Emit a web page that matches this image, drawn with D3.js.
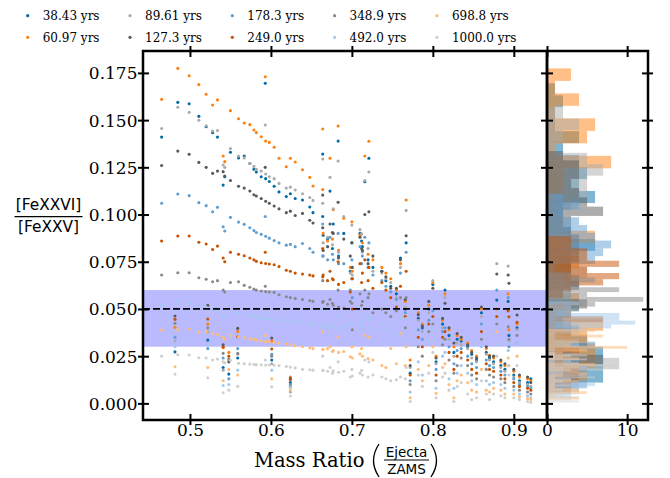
<!DOCTYPE html>
<html>
<head>
<meta charset="utf-8">
<script src="https://cdn.jsdelivr.net/npm/d3@7"></script>
<style>
  body { margin: 0; background: #fff; }
  svg { display: block; }
</style>
</head>
<body>
<svg id="chart" width="670" height="478"></svg>
<script>
// Ejecta-to-ZAMS mass ratio of each model
const massRatio = [
  0.465, 0.4815, 0.485, 0.499, 0.511, 0.520, 0.522, 0.528, 0.534, 0.541,
  0.541, 0.543, 0.548, 0.550, 0.559, 0.560, 0.567, 0.574, 0.579, 0.582,
  0.588, 0.593, 0.5935, 0.598, 0.601, 0.604, 0.610, 0.619, 0.624, 0.624,
  0.630, 0.639, 0.648, 0.652, 0.664, 0.664, 0.6645, 0.670, 0.673, 0.676,
  0.677, 0.683, 0.6835, 0.690, 0.698, 0.700, 0.7005, 0.710, 0.712, 0.713,
  0.716, 0.720, 0.721, 0.726, 0.737, 0.742, 0.748, 0.755, 0.760, 0.766,
  0.767, 0.772, 0.782, 0.787, 0.800, 0.804, 0.815, 0.820, 0.826, 0.830,
  0.843, 0.848, 0.854, 0.860, 0.866, 0.870, 0.875, 0.879, 0.884, 0.889,
  0.893, 0.894, 0.900, 0.904, 0.907, 0.917, 0.921, 0.812, 0.835, 0.795
];

// [FeXXVI]/[FeXXV] line ratio of each model at each age
const ratio38 = [
  0.141, 0.0273, 0.1594, 0.1587, 0.152, 0.1465, 0.0335, 0.1433, 0.1410, 0.1156,
  0.0190, 0.1200, 0.0155, 0.1330, 0.0240, 0.1300, 0.1310, 0.1270, 0.1240, 0.1225,
  0.1200, 0.1695, 0.1190, 0.1175, 0.0230, 0.1150, 0.1120, 0.1095, 0.1110, 0.0110,
  0.1085, 0.1077, 0.1040, 0.1010, 0.0990, 0.1320, 0.0890, 0.0870, 0.1124, 0.0820,
  0.0950, 0.1389, 0.0780, 0.0900, 0.0700, 0.0850, 0.0660, 0.0900, 0.0860, 0.0830,
  0.1174, 0.0760, 0.1298, 0.0720, 0.0700, 0.0650, 0.0620, 0.0580, 0.0770, 0.0500,
  0.0850, 0.0160, 0.0450, 0.0400, 0.0630, 0.0220, 0.0600, 0.0360, 0.0270, 0.0340,
  0.0300, 0.0260, 0.0230, 0.0480, 0.0270, 0.0240, 0.0220, 0.0547, 0.0200, 0.0180,
  0.0540, 0.0360, 0.0150, 0.0400, 0.0120, 0.0110, 0.0130, 0.0420, 0.0330, 0.0500
];
const ratio61 = [
  0.161, 0.0403, 0.1774, 0.1735, 0.1688, 0.1637, 0.0420, 0.158, 0.1607, 0.1310,
  0.0297, 0.1280, 0.0270, 0.1550, 0.0380, 0.1507, 0.1485, 0.1476, 0.1448, 0.1434,
  0.1412, 0.1730, 0.1389, 0.1382, 0.0330, 0.1356, 0.1298, 0.1253, 0.1298, 0.0140,
  0.1278, 0.1237, 0.1197, 0.1151, 0.1132, 0.1453, 0.0900, 0.0860, 0.1298, 0.0870,
  0.1025, 0.1469, 0.0810, 0.0980, 0.0720, 0.0962, 0.0700, 0.0890, 0.0897, 0.0850,
  0.1310, 0.0790, 0.1388, 0.0760, 0.0720, 0.0690, 0.0660, 0.0600, 0.0740, 0.0540,
  0.1077, 0.0230, 0.0480, 0.0420, 0.0640, 0.0250, 0.0580, 0.0390, 0.0300, 0.0360,
  0.0320, 0.0280, 0.0250, 0.0500, 0.0290, 0.0255, 0.0240, 0.0500, 0.0220, 0.0200,
  0.0580, 0.0390, 0.0170, 0.0420, 0.0140, 0.0130, 0.0120, 0.0440, 0.0340, 0.0520
];
const ratio90 = [
  0.1456, 0.0330, 0.1568, 0.1541, 0.1499, 0.1470, 0.0380, 0.1442, 0.1445, 0.1262,
  0.0176, 0.1250, 0.0230, 0.1350, 0.0260, 0.1310, 0.1300, 0.1270, 0.1255, 0.1240,
  0.1230, 0.1474, 0.1215, 0.1200, 0.0210, 0.1190, 0.1165, 0.1140, 0.1145, 0.0060,
  0.1130, 0.1110, 0.1090, 0.1075, 0.1060, 0.1294, 0.0850, 0.0880, 0.1197, 0.0840,
  0.1030, 0.1283, 0.0800, 0.0990, 0.0690, 0.0944, 0.0680, 0.0920, 0.0897, 0.0800,
  0.1180, 0.0820, 0.1225, 0.0700, 0.0690, 0.0660, 0.0640, 0.0560, 0.0720, 0.0510,
  0.1022, 0.0190, 0.0440, 0.0380, 0.0650, 0.0210, 0.0560, 0.0340, 0.0250, 0.0320,
  0.0290, 0.0240, 0.0220, 0.0460, 0.0260, 0.0230, 0.0210, 0.0740, 0.0190, 0.0170,
  0.0727, 0.0330, 0.0140, 0.0390, 0.0110, 0.0100, 0.0090, 0.0400, 0.0310, 0.0480
];
const ratio127 = [
  0.126, 0.0463, 0.1336, 0.1319, 0.1276, 0.125, 0.0520, 0.1218, 0.1230, 0.1227,
  0.0310, 0.1204, 0.0220, 0.1180, 0.0397, 0.1150, 0.1140, 0.1125, 0.1105, 0.1098,
  0.1085, 0.1250, 0.1070, 0.1060, 0.0346, 0.1045, 0.1030, 0.1010, 0.1018, 0.0132,
  0.0995, 0.1006, 0.0970, 0.0955, 0.0930, 0.1103, 0.0810, 0.0830, 0.0950, 0.0905,
  0.0900, 0.1065, 0.0770, 0.0870, 0.0780, 0.0851, 0.0720, 0.0880, 0.0820, 0.0810,
  0.1000, 0.0740, 0.1015, 0.0780, 0.0700, 0.0670, 0.0610, 0.0610, 0.0760, 0.0550,
  0.0888, 0.0200, 0.0470, 0.0410, 0.0610, 0.0240, 0.0530, 0.0400, 0.0320, 0.0370,
  0.0310, 0.0270, 0.0240, 0.0510, 0.0300, 0.0250, 0.0250, 0.0685, 0.0230, 0.0210,
  0.0680, 0.0636, 0.0180, 0.0468, 0.0150, 0.0140, 0.0110, 0.0450, 0.0350, 0.0540
];
const ratio178 = [
  0.106, 0.0350, 0.1109, 0.1100, 0.1063, 0.1047, 0.0290, 0.1015, 0.1038, 0.0935,
  0.0240, 0.0913, 0.0130, 0.0985, 0.0290, 0.0960, 0.0948, 0.0930, 0.0915, 0.0905,
  0.0895, 0.0990, 0.0885, 0.0875, 0.0260, 0.0862, 0.0850, 0.0838, 0.0842, 0.0100,
  0.0830, 0.0847, 0.0820, 0.0800, 0.0780, 0.0950, 0.0780, 0.0760, 0.0880, 0.0790,
  0.0760, 0.0900, 0.0740, 0.0740, 0.0600, 0.0760, 0.0560, 0.0830, 0.0740, 0.0780,
  0.0880, 0.0720, 0.0850, 0.0680, 0.0650, 0.0620, 0.0590, 0.0550, 0.0690, 0.0480,
  0.0800, 0.0120, 0.0390, 0.0340, 0.0490, 0.0180, 0.0400, 0.0300, 0.0210, 0.0280,
  0.0250, 0.0210, 0.0190, 0.0420, 0.0230, 0.0200, 0.0190, 0.0600, 0.0170, 0.0150,
  0.0560, 0.0300, 0.0130, 0.0320, 0.0100, 0.0090, 0.0080, 0.0380, 0.0290, 0.0440
];
const ratio249 = [
  0.086, 0.0445, 0.0886, 0.0886, 0.0853, 0.0844, 0.0447, 0.0815, 0.0833, 0.0770,
  0.0297, 0.0750, 0.0250, 0.0800, 0.0353, 0.0790, 0.0782, 0.0770, 0.0760, 0.0752,
  0.0745, 0.0800, 0.0741, 0.0738, 0.0288, 0.0734, 0.0725, 0.0705, 0.0700, 0.0125,
  0.0690, 0.0685, 0.0680, 0.0675, 0.0670, 0.0820, 0.0680, 0.0650, 0.0700, 0.0660,
  0.0655, 0.0750, 0.0630, 0.0640, 0.0590, 0.0660, 0.0500, 0.0740, 0.0640, 0.0690,
  0.0760, 0.0650, 0.0720, 0.0610, 0.0640, 0.0600, 0.0560, 0.0510, 0.0620, 0.0460,
  0.0700, 0.0150, 0.0350, 0.0300, 0.0460, 0.0150, 0.0380, 0.0270, 0.0180, 0.0250,
  0.0230, 0.0180, 0.0160, 0.0380, 0.0210, 0.0180, 0.0170, 0.0460, 0.0150, 0.0130,
  0.0490, 0.0459, 0.0110, 0.0430, 0.0090, 0.0080, 0.0070, 0.0350, 0.0270, 0.0420
];
const ratio349 = [
  0.068, 0.0424, 0.0692, 0.0692, 0.0665, 0.0657, 0.0400, 0.0644, 0.0650, 0.0600,
  0.0265, 0.0590, 0.0235, 0.0640, 0.0265, 0.0644, 0.0625, 0.0615, 0.0605, 0.0600,
  0.0595, 0.0620, 0.0592, 0.0590, 0.0250, 0.0588, 0.0575, 0.0565, 0.0560, 0.0090,
  0.0556, 0.0550, 0.0545, 0.0540, 0.0535, 0.0650, 0.0540, 0.0525, 0.0550, 0.0530,
  0.0520, 0.0600, 0.0510, 0.0505, 0.0540, 0.0530, 0.0390, 0.0580, 0.0520, 0.0540,
  0.0600, 0.0560, 0.0580, 0.0480, 0.0500, 0.0480, 0.0460, 0.0490, 0.0560, 0.0400,
  0.0560, 0.0100, 0.0300, 0.0250, 0.0420, 0.0120, 0.0340, 0.0230, 0.0160, 0.0200,
  0.0200, 0.0150, 0.0130, 0.0340, 0.0180, 0.0150, 0.0140, 0.0420, 0.0130, 0.0110,
  0.0406, 0.0340, 0.0090, 0.0360, 0.0070, 0.0060, 0.0050, 0.0310, 0.0240, 0.0380
];
const ratio492 = [
  0.052, 0.0300, 0.054, 0.053, 0.052, 0.051, 0.0310, 0.050, 0.049, 0.0470,
  0.0095, 0.0460, 0.0100, 0.0485, 0.0176, 0.0478, 0.0470, 0.0468, 0.0462, 0.0458,
  0.0455, 0.0480, 0.0450, 0.0447, 0.0176, 0.0442, 0.0438, 0.0432, 0.0435, 0.0085,
  0.0430, 0.0440, 0.0425, 0.0420, 0.0415, 0.0500, 0.0406, 0.0400, 0.0430, 0.0410,
  0.0410, 0.0460, 0.0395, 0.0405, 0.0425, 0.0420, 0.0320, 0.0430, 0.0410, 0.0390,
  0.0470, 0.0440, 0.0460, 0.0390, 0.0420, 0.0400, 0.0380, 0.0360, 0.0450, 0.0340,
  0.0450, 0.0060, 0.0220, 0.0150, 0.0390, 0.0080, 0.0270, 0.0130, 0.0080, 0.0160,
  0.0160, 0.0120, 0.0100, 0.0300, 0.0120, 0.0100, 0.0110, 0.0310, 0.0100, 0.0080,
  0.0280, 0.0320, 0.0070, 0.0320, 0.0050, 0.0040, 0.0030, 0.0250, 0.0200, 0.0330
];
const ratio699 = [
  0.0388, 0.0194, 0.039, 0.0394, 0.0376, 0.038, 0.0190, 0.037, 0.0365, 0.0350,
  0.0120, 0.0340, 0.0180, 0.0360, 0.0150, 0.0353, 0.0348, 0.0342, 0.0338, 0.0335,
  0.0330, 0.0360, 0.0328, 0.0326, 0.0130, 0.0324, 0.0320, 0.0315, 0.0312, 0.0073,
  0.0305, 0.0300, 0.0295, 0.0290, 0.0285, 0.0380, 0.0285, 0.0290, 0.0300, 0.0275,
  0.0280, 0.0350, 0.0270, 0.0275, 0.0247, 0.0300, 0.0240, 0.0262, 0.0290, 0.0250,
  0.0360, 0.0237, 0.0350, 0.0230, 0.0200, 0.0190, 0.0290, 0.0210, 0.0370, 0.0200,
  0.0300, 0.0030, 0.0180, 0.0120, 0.0300, 0.0054, 0.0210, 0.0100, 0.0030, 0.0120,
  0.0110, 0.0070, 0.0060, 0.0180, 0.0070, 0.0060, 0.0080, 0.0380, 0.0070, 0.0050,
  0.0240, 0.0200, 0.0050, 0.0250, 0.0035, 0.0025, 0.0020, 0.0190, 0.0150, 0.0200
];
const ratio1000 = [
  0.025, 0.0155, 0.0258, 0.0256, 0.0242, 0.024, 0.0136, 0.023, 0.0235, 0.0220,
  0.0056, 0.0215, 0.0070, 0.0228, 0.0090, 0.0212, 0.0210, 0.0208, 0.0206, 0.0205,
  0.0204, 0.0230, 0.0203, 0.0203, 0.0088, 0.0202, 0.0200, 0.0195, 0.0192, 0.0039,
  0.0188, 0.0180, 0.0178, 0.0176, 0.0175, 0.0250, 0.0175, 0.0170, 0.0190, 0.0160,
  0.0172, 0.0220, 0.0165, 0.0170, 0.0140, 0.0180, 0.0145, 0.0160, 0.0175, 0.0150,
  0.0230, 0.0140, 0.0220, 0.0150, 0.0140, 0.0130, 0.0120, 0.0125, 0.0140, 0.0130,
  0.0190, 0.0010, 0.0150, 0.0090, 0.0270, 0.0030, 0.0160, 0.0070, 0.0010, 0.0090,
  0.0050, 0.0020, 0.0030, 0.0120, 0.0050, 0.0020, 0.0050, 0.0250, 0.0040, 0.0030,
  0.0200, 0.0150, 0.0030, 0.0200, 0.0020, 0.0010, 0.0005, 0.0140, 0.0110, 0.0160
];

const seriesValues = [ratio38, ratio61, ratio90, ratio127, ratio178,
                      ratio249, ratio349, ratio492, ratio699, ratio1000];
const seriesLabels = ["38.43 yrs", "60.97 yrs", "89.61 yrs", "127.3 yrs", "178.3 yrs",
                      "249.0 yrs", "348.9 yrs", "492.0 yrs", "698.8 yrs", "1000.0 yrs"];
const seriesColors = ["#006BA4", "#FF800E", "#ABABAB", "#595959", "#5F9ED1",
                      "#C85200", "#898989", "#A2C8EC", "#FFBC79", "#CFCFCF"];

const xTicks = [0.5, 0.6, 0.7, 0.8, 0.9];
const yTicks = [0.000, 0.025, 0.050, 0.075, 0.100, 0.125, 0.150, 0.175];
const histTicks = [0, 10];
const observedBand = [0.03, 0.06];
const observedRatio = 0.05;
const histBinCount = 25;

const svg = d3.select("#chart");
const M = { left: 143, right: 547, top: 51, bottom: 420 };
const HP = { left: 547, right: 648 };

const x = d3.scaleLinear().domain([0.442, 0.941]).range([M.left, M.right]);
const y = d3.scaleLinear().domain([-0.0088, 0.1866]).range([M.bottom, M.top]);
const hx = d3.scaleLinear().domain([0, 12.6]).range([HP.left, HP.right]);

const defs = svg.append("defs");
defs.append("clipPath").attr("id", "mainClip").append("rect")
  .attr("x", M.left).attr("y", M.top)
  .attr("width", M.right - M.left).attr("height", M.bottom - M.top);
defs.append("clipPath").attr("id", "histClip").append("rect")
  .attr("x", HP.left).attr("y", M.top)
  .attr("width", HP.right - HP.left).attr("height", M.bottom - M.top);

// ---- main scatter panel ----
const main = svg.append("g").attr("clip-path", "url(#mainClip)");

main.append("rect")
  .attr("x", M.left).attr("width", M.right - M.left)
  .attr("y", y(observedBand[1]))
  .attr("height", y(observedBand[0]) - y(observedBand[1]))
  .attr("fill", "#0000ff").attr("fill-opacity", 0.27);

seriesValues.forEach((vals, i) => {
  main.append("g").selectAll("circle")
    .data(vals.map((v, j) => [massRatio[j], v]))
    .join("circle")
    .attr("cx", d => x(d[0]))
    .attr("cy", d => y(d[1]))
    .attr("r", 1.55)
    .attr("fill", seriesColors[i]);
});

main.append("line")
  .attr("x1", M.left).attr("x2", M.right)
  .attr("y1", y(observedRatio)).attr("y2", y(observedRatio))
  .attr("stroke", "#000").attr("stroke-width", 1.8)
  .attr("stroke-dasharray", "7,3");

// ---- marginal histograms ----
const hist = svg.append("g").attr("clip-path", "url(#histClip)");
seriesValues.forEach((vals, i) => {
  const [lo, hi] = d3.extent(vals);
  const thresholds = d3.range(1, histBinCount).map(k => lo + k * (hi - lo) / histBinCount);
  const bins = d3.bin().domain([lo, hi]).thresholds(thresholds)(vals);
  hist.append("g").selectAll("rect")
    .data(bins.filter(b => b.length > 0))
    .join("rect")
    .attr("x", hx(0))
    .attr("width", b => hx(b.length) - hx(0))
    .attr("y", b => y(b.x1))
    .attr("height", b => Math.max(0.5, y(b.x0) - y(b.x1)))
    .attr("fill", seriesColors[i])
    .attr("fill-opacity", 0.5);
});

// ---- axes ----
const tickFont = "'DejaVu Serif', serif";
const TIN = 6, TOUT = 5;

function styleAxis(g) {
  g.select(".domain").remove();
  g.selectAll(".tick line").attr("stroke", "#000").attr("stroke-width", 2);
  g.selectAll(".tick text").attr("fill", "#000")
    .attr("font-family", tickFont).attr("font-size", 17);
}

// left axis of scatter
const yAxisG = svg.append("g").attr("transform", `translate(${M.left},0)`)
  .call(d3.axisLeft(y).tickValues(yTicks).tickFormat(d3.format(".3f")))
  .call(styleAxis);
yAxisG.selectAll(".tick line").attr("x1", TIN).attr("x2", -TOUT);
yAxisG.selectAll(".tick text").attr("x", -5.5).attr("dy", "0.35em");

// bottom axis of scatter
const xAxisG = svg.append("g").attr("transform", `translate(0,${M.bottom})`)
  .call(d3.axisBottom(x).tickValues(xTicks).tickFormat(d3.format(".1f")))
  .call(styleAxis);
xAxisG.selectAll(".tick line").attr("y1", -TIN).attr("y2", TOUT);
xAxisG.selectAll(".tick text").attr("y", 15.8).attr("dy", 0);

// top and right ticks of scatter
const xTopG = svg.append("g").attr("transform", `translate(0,${M.top})`)
  .call(d3.axisTop(x).tickValues(xTicks).tickFormat(""))
  .call(styleAxis);
xTopG.selectAll(".tick line").attr("y1", TIN).attr("y2", -TOUT);

const yRightG = svg.append("g").attr("transform", `translate(${M.right},0)`)
  .call(d3.axisRight(y).tickValues(yTicks).tickFormat(""))
  .call(styleAxis);
yRightG.selectAll(".tick line").attr("x1", -TIN).attr("x2", TIN);

// histogram panel axes
const hBottomG = svg.append("g").attr("transform", `translate(0,${M.bottom})`)
  .call(d3.axisBottom(hx).tickValues(histTicks).tickFormat(d3.format("d")))
  .call(styleAxis);
hBottomG.selectAll(".tick line").attr("y1", -TIN).attr("y2", TOUT);
hBottomG.selectAll(".tick text").attr("y", 15.8).attr("dy", 0);

const hTopG = svg.append("g").attr("transform", `translate(0,${M.top})`)
  .call(d3.axisTop(hx).tickValues(histTicks).tickFormat(""))
  .call(styleAxis);
hTopG.selectAll(".tick line").attr("y1", TIN).attr("y2", -TOUT);

const hRightG = svg.append("g").attr("transform", `translate(${HP.right},0)`)
  .call(d3.axisRight(y).tickValues(yTicks).tickFormat(""))
  .call(styleAxis);
hRightG.selectAll(".tick line").attr("x1", -TIN).attr("x2", TOUT);

// frames
const frame = svg.append("g").attr("fill", "none").attr("stroke", "#000").attr("stroke-width", 2.5);
frame.append("rect").attr("x", M.left).attr("y", M.top)
  .attr("width", M.right - M.left).attr("height", M.bottom - M.top);
frame.append("rect").attr("x", HP.left).attr("y", M.top)
  .attr("width", HP.right - HP.left).attr("height", M.bottom - M.top);

// ---- y label: [FeXXVI] / [FeXXV] ----
const sans = "'DejaVu Sans', sans-serif";
const yl = svg.append("g").attr("font-family", sans).attr("font-size", 15.4)
  .attr("fill", "#000").attr("text-anchor", "middle");
yl.append("text").attr("x", 48.5).attr("y", 209.7).text("[FeXXVI]");
yl.append("line").attr("x1", 14.5).attr("x2", 82.5).attr("y1", 216.7).attr("y2", 216.7)
  .attr("stroke", "#000").attr("stroke-width", 1.2);
yl.append("text").attr("x", 48.5).attr("y", 231.7).text("[FeXXV]");

// ---- x label: Mass Ratio (Ejecta / ZAMS) ----
svg.append("text").attr("x", 254).attr("y", 467.3)
  .attr("font-family", tickFont).attr("font-size", 19.5).attr("fill", "#000")
  .text("Mass Ratio");
const xl = svg.append("g").attr("font-family", sans).attr("font-size", 13.5)
  .attr("fill", "#000").attr("text-anchor", "middle");
xl.append("text").attr("x", 406.5).attr("y", 456.8).text("Ejecta");
xl.append("line").attr("x1", 384).attr("x2", 429).attr("y1", 460).attr("y2", 460)
  .attr("stroke", "#000").attr("stroke-width", 1);
xl.append("text").attr("x", 406.5).attr("y", 473.8).text("ZAMS");
xl.append("path").attr("d", "M379,444 Q368,460.5 379,477")
  .attr("fill", "none").attr("stroke", "#000").attr("stroke-width", 1.3);
xl.append("path").attr("d", "M431,444 Q442,460.5 431,477")
  .attr("fill", "none").attr("stroke", "#000").attr("stroke-width", 1.3);

// ---- legend: 5 columns x 2 rows, filled column by column ----
const legend = svg.append("g");
seriesLabels.forEach((lab, i) => {
  const col = Math.floor(i / 2), row = i % 2;
  const lx = 27.7 + col * 102.3, ly = 15.7 + row * 21.6;
  legend.append("circle").attr("cx", lx).attr("cy", ly).attr("r", 1.6)
    .attr("fill", seriesColors[i]);
  legend.append("text").attr("x", lx + 15).attr("y", ly).attr("dy", "0.35em")
    .attr("font-family", tickFont).attr("font-size", 12).attr("fill", "#000")
    .text(lab);
});
</script>
</body>
</html>
